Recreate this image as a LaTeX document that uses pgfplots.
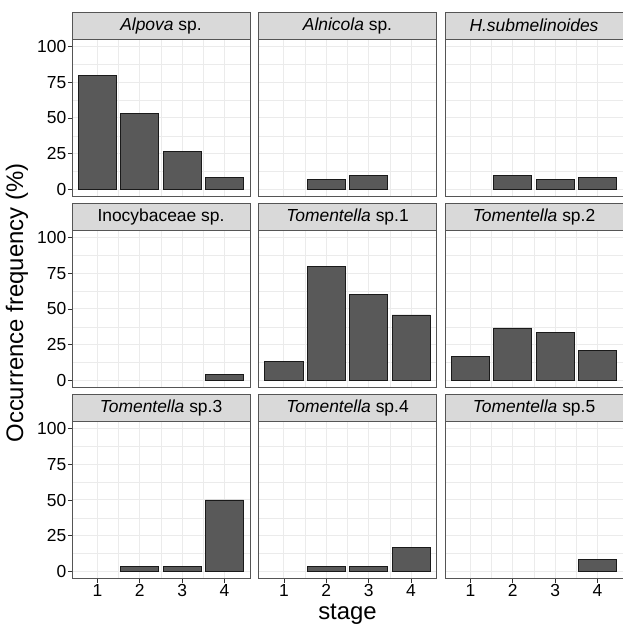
\documentclass[border=0pt]{standalone}
\usepackage{pgfplots}
\pgfplotsset{compat=1.18}
\usepackage{fontspec}
\setmainfont{Liberation Sans}
\definecolor{gridc}{HTML}{EBEBEB}
\definecolor{borderc}{HTML}{555555}
\definecolor{tickc}{HTML}{333333}
\definecolor{stripc}{HTML}{D9D9D9}
\definecolor{barc}{HTML}{595959}
\definecolor{baredge}{HTML}{1A1A1A}
\pgfplotsset{
  panel/.style={
    anchor=south west, scale only axis, width=178bp, height=157bp,
    xmin=0.4, xmax=4.6, ymin=-5, ymax=105,
    xtick={1,2,3,4}, ytick={0,25,50,75,100},
    minor xtick={1.5,2.5,3.5}, minor ytick={12.5,37.5,62.5,87.5},
    xtick pos=bottom, ytick pos=left,
    grid=both,
    major grid style={draw=gridc, line width=1bp},
    minor grid style={draw=gridc, line width=0.5bp},
    axis line style={draw=borderc, line width=0.8bp},
    tick align=outside, major tick length=4bp, minor tick length=0pt,
    tick style={draw=tickc, line width=0.8bp},
    ticklabel style={font=\fontsize{17.5}{17.5}\selectfont, text=black},
    /pgf/number format/assume math mode=true,
    xticklabel style={inner sep=1.5bp},
    yticklabel style={inner sep=1.5bp},
    ybar, bar width=0.9, bar shift=0pt,
  },
  nox/.style={xticklabels={}, xtick style={draw=none}},
  noy/.style={yticklabels={}, ytick style={draw=none}},
  barsty/.style={fill=barc, draw=baredge, line width=0.8bp},
}
\newcommand{\strip}[2]{%
  \draw[fill=stripc, draw=borderc, line width=0.8bp] (#1.north west) rectangle ([yshift=27.5bp]#1.north east);
  \node[font=\fontsize{17.5}{17.5}\selectfont, anchor=center] at ([yshift=13.75bp]#1.north) {#2};
}
\begin{document}
\begin{tikzpicture}
\useasboundingbox (0,0) rectangle (623bp,624bp);
% row 1
\begin{axis}[panel, nox, name=p1, at={(72bp,427.5bp)}]
\addplot[barsty] coordinates {(1,80) (2,53.3) (3,26.7) (4,8.3)};
\end{axis}
\strip{p1}{\textit{Alpova} sp.}
\begin{axis}[panel, nox, noy, name=p2, at={(258.5bp,427.5bp)}]
\addplot[barsty] coordinates {(2,6.7) (3,10)};
\end{axis}
\strip{p2}{\textit{Alnicola} sp.}
\begin{axis}[panel, nox, noy, name=p3, at={(445bp,427.5bp)}]
\addplot[barsty] coordinates {(2,10) (3,6.7) (4,8.3)};
\end{axis}
\strip{p3}{\textit{H.submelinoides}}
% row 2
\begin{axis}[panel, nox, name=p4, at={(72bp,236.5bp)}]
\addplot[barsty] coordinates {(4,4.2)};
\end{axis}
\strip{p4}{Inocybaceae sp.}
\begin{axis}[panel, nox, noy, name=p5, at={(258.5bp,236.5bp)}]
\addplot[barsty] coordinates {(1,13.3) (2,80) (3,60) (4,45.8)};
\end{axis}
\strip{p5}{\textit{Tomentella} sp.1}
\begin{axis}[panel, nox, noy, name=p6, at={(445bp,236.5bp)}]
\addplot[barsty] coordinates {(1,16.7) (2,36.7) (3,33.3) (4,20.8)};
\end{axis}
\strip{p6}{\textit{Tomentella} sp.2}
% row 3
\begin{axis}[panel, name=p7, at={(72bp,45.5bp)}]
\addplot[barsty] coordinates {(2,3.3) (3,3.3) (4,50)};
\end{axis}
\strip{p7}{\textit{Tomentella} sp.3}
\begin{axis}[panel, noy, name=p8, at={(258.5bp,45.5bp)}]
\addplot[barsty] coordinates {(2,3.3) (3,3.3) (4,16.7)};
\end{axis}
\strip{p8}{\textit{Tomentella} sp.4}
\begin{axis}[panel, noy, name=p9, at={(445bp,45.5bp)}]
\addplot[barsty] coordinates {(4,8.3)};
\end{axis}
\strip{p9}{\textit{Tomentella} sp.5}
\node[rotate=90, font=\fontsize{24}{24}\selectfont] at (17bp,321bp) {Occurrence frequency (\%)};
\node[anchor=base, font=\fontsize{24}{24}\selectfont] at (347.5bp,5bp) {stage};
\end{tikzpicture}
\end{document}
